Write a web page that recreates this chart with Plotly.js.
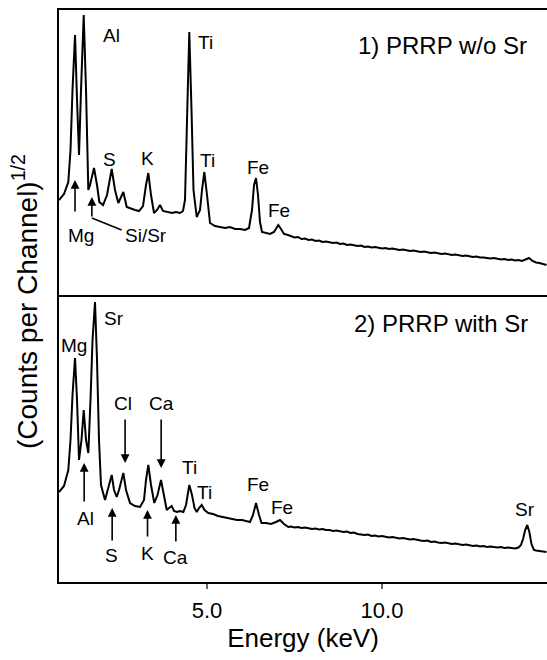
<!DOCTYPE html>
<html>
<head>
<meta charset="utf-8">
<script src="https://cdn.plot.ly/plotly-3.0.1.min.js"></script>
<style>html,body{margin:0;padding:0;background:#fff;}#chart{width:547px;height:660px;}</style>
</head>
<body>
<div id="chart"></div>
<script>
// ---- Data (energy in keV, sqrt counts in arbitrary units) ----
// Panel 1: PRRP without Sr
const energyTop = [
  0.771,0.914,1.037,1.10,1.157,1.229,1.286,1.343,1.40,1.477,1.543,1.609,1.657,1.771,1.857,1.923,2.029,2.143,2.277,2.371,
  2.466,2.543,2.609,2.706,2.83,2.943,3.057,3.171,3.257,3.323,3.40,3.486,3.571,3.657,3.743,3.886,4.0,4.114,4.229,4.314,
  4.371,4.429,4.494,4.557,4.614,4.706,4.80,4.857,4.923,5.0,5.086,5.229,5.371,5.514,5.657,5.80,5.943,6.086,6.20,6.286,
  6.343,6.40,6.457,6.514,6.571,6.686,6.80,6.914,6.971,7.037,7.114,7.20,7.314,
  7.4,7.5,7.6,7.7,7.8,7.9,8.0,8.1,8.2,8.3,8.4,8.5,8.6,8.7,8.8,8.9,9.0,9.1,9.2,9.3,9.4,9.5,9.6,9.7,9.8,9.9,
  10.0,10.1,10.2,10.3,10.4,10.5,10.6,10.7,10.8,10.9,11.0,11.1,11.2,11.3,11.4,11.5,11.6,11.7,11.8,11.9,
  12.0,12.1,12.2,12.3,12.4,12.5,12.6,12.7,12.8,12.9,13.0,13.1,13.2,13.3,13.4,13.5,13.6,13.7,13.8,13.9,
  14.0,14.1,14.2,14.3,14.4,14.5,14.6,14.7
];
const countsTop = [
  95,101,113,145,205,260,195,140,205,280,205,105,110,127,110,93,90,100,126,105,
  92,98,103,88,86,85,84,89,110,122,100,82,85,90,84,83,82,83,82,84,
  95,175,263,185,105,78,85,105,123,100,72,69,68,67,68,66,66,65,67,85,
  110,117,100,73,63,62,61,63,67,70,66,61,60,
  59,57.5,58,56,56.5,55,55.5,54,54.5,53,53.5,52.5,52,52.5,51,51.5,50,50.5,49.5,49,49.5,48,48.5,47.5,48,47,
  46.5,47,46,46.5,45.5,45,45.5,44.5,44,44.5,43.5,43,43.5,42.5,42,42.5,41.5,41,41.5,40.5,
  40,40.5,39.5,39,39.5,38.5,38,38.5,37.5,37.5,37,36.5,37,36,35.5,36,35,35.5,34.5,35,
  34,35.5,37,34,32.5,32,31,30
];

// Panel 2: PRRP with Sr
const energyBottom = [
  0.771,0.914,1.037,1.10,1.157,1.229,1.286,1.343,1.414,1.477,1.543,1.609,1.671,1.729,1.80,1.857,1.914,1.971,2.086,2.186,
  2.277,2.343,2.42,2.486,2.609,2.686,2.80,2.943,3.086,3.20,3.257,3.323,3.40,3.494,3.586,3.686,3.757,3.849,3.914,3.991,
  4.057,4.143,4.229,4.323,4.40,4.494,4.571,4.643,4.706,4.771,4.849,4.929,5.037,5.171,5.314,5.429,5.571,5.714,5.857,6.0,
  6.114,6.229,6.314,6.40,6.486,6.557,6.686,6.829,6.971,7.086,7.20,7.323,
  7.4,7.5,7.6,7.7,7.8,7.9,8.0,8.1,8.2,8.3,8.4,8.5,8.6,8.7,8.8,8.9,9.0,9.1,9.2,9.3,9.4,9.5,9.6,9.7,9.8,9.9,
  10.0,10.1,10.2,10.3,10.4,10.5,10.6,10.7,10.8,10.9,11.0,11.1,11.2,11.3,11.4,11.5,11.6,11.7,11.8,11.9,
  12.0,12.1,12.2,12.3,12.4,12.5,12.6,12.7,12.8,12.9,13.0,13.1,13.2,13.3,13.4,13.5,13.6,13.7,13.8,13.9,
  13.97,14.03,14.09,14.15,14.21,14.27,14.34,14.4,14.5,14.6,14.7
];
const countsBottom = [
  90,96,112,142,187,224,182,122,142,172,142,129,182,242,280,222,142,97,82,94,
  107,92,85,92,109,92,79,76,75,82,102,117,97,79,87,102,87,72,74,76,
  71,70,71,70,77,97,87,74,70,74,77,72,69,68,66,65,64,63,62,62,
  61,60,67,79,67,59,59,58,60,62,58,55,
  55.5,54.5,55,54,54.5,53.5,53,53.5,52.5,53,52,52,51,51.5,50.5,50,50.5,49,49.5,48,47.5,47,47.5,46,46.5,45.5,
  46,45,44.5,45,44,43.5,44,43,42.5,43,42,41.5,41,41.5,40,40.5,39.5,39,39.5,38.5,
  38,38.5,37.5,37,37.5,36.5,36,36.5,35.5,36,35,35.5,35,34.5,35,34,34.5,34,33.5,34.5,
  37,43,52,57,50,38,32,31.5,31,30.5,30
];

const xTickVals = [5, 10];
const xTickText = ['5.0', '10.0'];

const FONT = 'Liberation Sans, Arial, Helvetica, sans-serif';
const LBL = 19;

function lab(text, x, y, panel, extra) {
  return Object.assign({
    text: text, x: x, y: y, xref: panel === 1 ? 'x2' : 'x', yref: panel === 1 ? 'y2' : 'y',
    showarrow: false, font: {family: FONT, size: LBL, color: '#000'}
  }, extra || {});
}
function arr(x, y, ax, ay, panel) {
  return {
    text: '', x: x, y: y, ax: ax, ay: ay,
    xref: panel === 1 ? 'x2' : 'x', yref: panel === 1 ? 'y2' : 'y',
    axref: panel === 1 ? 'x2' : 'x', ayref: panel === 1 ? 'y2' : 'y',
    showarrow: true, arrowhead: 2, arrowsize: 1.1, arrowwidth: 1.6, arrowcolor: '#000',
    standoff: 0, startstandoff: 0
  };
}

const traces = [
  {x: energyTop, y: countsTop, xaxis: 'x2', yaxis: 'y2', type: 'scatter', mode: 'lines',
   line: {color: '#000', width: 2}, name: '1) PRRP w/o Sr', hoverinfo: 'x+y'},
  {x: energyBottom, y: countsBottom, xaxis: 'x', yaxis: 'y', type: 'scatter', mode: 'lines',
   line: {color: '#000', width: 2}, name: '2) PRRP with Sr', hoverinfo: 'x+y'}
];

const split = (582 - 295) / 572;

const annotations = [
  // panel 1 labels
  lab('Al', 2.26, 260, 1),
  lab('Ti', 4.97, 253, 1),
  lab('S', 2.2, 136, 1),
  lab('K', 3.31, 137, 1),
  lab('Ti', 5.0, 135, 1),
  lab('Fe', 6.46, 128, 1),
  lab('Fe', 7.06, 85, 1),
  lab('Mg', 1.4, 60, 1),
  lab('Si/Sr', 3.26, 60, 1),
  arr(1.229, 115, 1.229, 82, 1),
  arr(1.71, 98, 1.71, 77, 1),
  lab('1) PRRP w/o Sr', 14.19, 250, 1, {xanchor: 'right', font: {family: FONT, size: 24, color: '#000'}}),
  // panel 2 labels
  lab('Sr', 2.34, 264, 2),
  lab('Mg', 1.2, 237, 2),
  lab('Cl', 2.6, 179, 2),
  lab('Ca', 3.71, 179, 2),
  lab('Ti', 4.49, 115, 2),
  lab('Ti', 4.94, 90, 2),
  lab('Fe', 6.46, 98, 2),
  lab('Fe', 7.14, 75, 2),
  lab('Al', 1.54, 64, 2),
  lab('S', 2.26, 27, 2),
  lab('K', 3.29, 29, 2),
  lab('Ca', 4.09, 25, 2),
  lab('Sr', 14.09, 73, 2),
  arr(2.66, 119, 2.66, 164, 2),
  arr(3.69, 114, 3.69, 164, 2),
  arr(1.49, 119, 1.49, 79, 2),
  arr(2.29, 74, 2.29, 40, 2),
  arr(3.30, 72, 3.30, 44, 2),
  arr(4.11, 67, 4.11, 39, 2),
  lab('2) PRRP with Sr', 14.24, 259, 2, {xanchor: 'right', font: {family: FONT, size: 24, color: '#000'}}),
  // y-axis title spanning both panels
  {text: '(Counts per Channel)<sup>1/2</sup>', xref: 'paper', yref: 'paper', x: 0, y: (582 - 302) / 572,
   xanchor: 'center', yanchor: 'middle', xshift: -34, textangle: -90, showarrow: false,
   font: {family: FONT, size: 28, color: '#000'}}
];

const shapes = [
  {type: 'line', xref: 'x2', yref: 'y2', x0: 1.71, y0: 77, x1: 2.56, y1: 65, line: {color: '#000', width: 1.6}}
];

const axisCommon = {showgrid: false, zeroline: false, showline: true, linecolor: '#000', linewidth: 2};

const layout = {
  width: 547, height: 660,
  margin: {l: 59, r: 0, t: 10, b: 78},
  paper_bgcolor: '#fff', plot_bgcolor: '#fff',
  showlegend: false,
  font: {family: FONT, color: '#000'},
  xaxis: Object.assign({}, axisCommon, {
    domain: [0, 1], anchor: 'y', range: [0.771, 14.714],
    tickmode: 'array', tickvals: xTickVals, ticktext: xTickText,
    ticks: 'outside', ticklen: 5, tickwidth: 1.5, tickcolor: '#666',
    tickfont: {family: FONT, size: 22, color: '#000'}, ticklabelstandoff: 3,
    title: {text: 'Energy (keV)', font: {family: FONT, size: 26, color: '#000'}, standoff: 6}
  }),
  xaxis2: Object.assign({}, axisCommon, {
    domain: [0, 1], anchor: 'y2', matches: 'x', range: [0.771, 14.714],
    showticklabels: false, ticks: '', mirror: true
  }),
  yaxis: Object.assign({}, axisCommon, {
    domain: [0, split], anchor: 'x', range: [0, 287], showticklabels: false, ticks: ''
  }),
  yaxis2: Object.assign({}, axisCommon, {
    domain: [split, 1], anchor: 'x2', range: [0, 285], showticklabels: false, ticks: ''
  }),
  annotations: annotations,
  shapes: shapes
};

Plotly.newPlot('chart', traces, layout, {displayModeBar: false, staticPlot: true});
</script>
</body>
</html>
